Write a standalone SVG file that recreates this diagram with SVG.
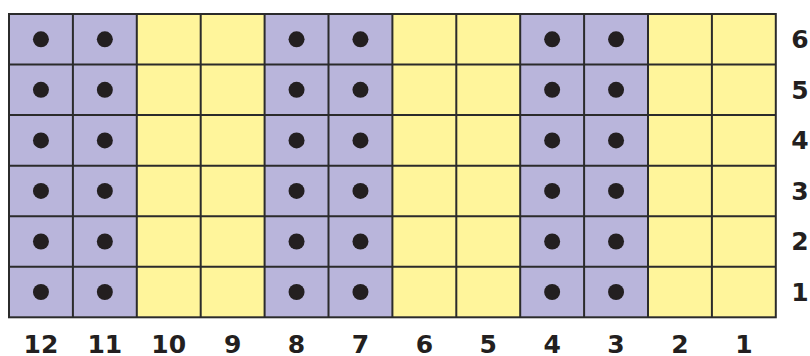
<svg xmlns="http://www.w3.org/2000/svg" xmlns:xlink="http://www.w3.org/1999/xlink" width="810" height="356" viewBox="0 0 810 356">
<defs>
<style>
.p{fill:#b9b5db}
.y{fill:#fff59b}
.d{fill:#231f20}
.g{stroke:#2b2b2b;stroke-width:2;fill:none}
.t{font-family:"DejaVu Sans",sans-serif;font-weight:bold;font-size:25px;fill:#231f20;text-anchor:middle}
</style>
<circle id="dot" r="8" class="d"/>
</defs>
<rect width="810" height="356" fill="#ffffff"/>
<g id="col-12"><rect class="p" x="9" y="14" width="63.9" height="303.3"/>
<use xlink:href="#dot" x="40.95" y="39.3"/><use xlink:href="#dot" x="40.95" y="89.8"/><use xlink:href="#dot" x="40.95" y="140.4"/><use xlink:href="#dot" x="40.95" y="190.9"/><use xlink:href="#dot" x="40.95" y="241.5"/><use xlink:href="#dot" x="40.95" y="292"/></g>
<g id="col-11"><rect class="p" x="72.9" y="14" width="63.9" height="303.3"/>
<use xlink:href="#dot" x="104.85" y="39.3"/><use xlink:href="#dot" x="104.85" y="89.8"/><use xlink:href="#dot" x="104.85" y="140.4"/><use xlink:href="#dot" x="104.85" y="190.9"/><use xlink:href="#dot" x="104.85" y="241.5"/><use xlink:href="#dot" x="104.85" y="292"/></g>
<g id="col-10"><rect class="y" x="136.8" y="14" width="63.9" height="303.3"/></g>
<g id="col-9"><rect class="y" x="200.7" y="14" width="63.9" height="303.3"/></g>
<g id="col-8"><rect class="p" x="264.6" y="14" width="63.9" height="303.3"/>
<use xlink:href="#dot" x="296.55" y="39.3"/><use xlink:href="#dot" x="296.55" y="89.8"/><use xlink:href="#dot" x="296.55" y="140.4"/><use xlink:href="#dot" x="296.55" y="190.9"/><use xlink:href="#dot" x="296.55" y="241.5"/><use xlink:href="#dot" x="296.55" y="292"/></g>
<g id="col-7"><rect class="p" x="328.5" y="14" width="63.9" height="303.3"/>
<use xlink:href="#dot" x="360.45" y="39.3"/><use xlink:href="#dot" x="360.45" y="89.8"/><use xlink:href="#dot" x="360.45" y="140.4"/><use xlink:href="#dot" x="360.45" y="190.9"/><use xlink:href="#dot" x="360.45" y="241.5"/><use xlink:href="#dot" x="360.45" y="292"/></g>
<g id="col-6"><rect class="y" x="392.4" y="14" width="63.9" height="303.3"/></g>
<g id="col-5"><rect class="y" x="456.3" y="14" width="63.9" height="303.3"/></g>
<g id="col-4"><rect class="p" x="520.2" y="14" width="63.9" height="303.3"/>
<use xlink:href="#dot" x="552.15" y="39.3"/><use xlink:href="#dot" x="552.15" y="89.8"/><use xlink:href="#dot" x="552.15" y="140.4"/><use xlink:href="#dot" x="552.15" y="190.9"/><use xlink:href="#dot" x="552.15" y="241.5"/><use xlink:href="#dot" x="552.15" y="292"/></g>
<g id="col-3"><rect class="p" x="584.1" y="14" width="63.9" height="303.3"/>
<use xlink:href="#dot" x="616.05" y="39.3"/><use xlink:href="#dot" x="616.05" y="89.8"/><use xlink:href="#dot" x="616.05" y="140.4"/><use xlink:href="#dot" x="616.05" y="190.9"/><use xlink:href="#dot" x="616.05" y="241.5"/><use xlink:href="#dot" x="616.05" y="292"/></g>
<g id="col-2"><rect class="y" x="648" y="14" width="63.9" height="303.3"/></g>
<g id="col-1"><rect class="y" x="711.9" y="14" width="63.9" height="303.3"/></g>
<g id="grid" class="g">
<rect x="9" y="14" width="766.8" height="303.3"/>
<path d="M72.9 14V317.3M136.8 14V317.3M200.7 14V317.3M264.6 14V317.3M328.5 14V317.3M392.4 14V317.3M456.3 14V317.3M520.2 14V317.3M584.1 14V317.3M648 14V317.3M711.9 14V317.3"/>
<path d="M9 64.55H775.8M9 115.1H775.8M9 165.65H775.8M9 216.2H775.8M9 266.75H775.8"/>
</g>
<g id="row-labels" class="t">
<text x="800" y="48">6</text>
<text x="800" y="98.5">5</text>
<text x="800" y="149">4</text>
<text x="800" y="199.6">3</text>
<text x="800" y="250.2">2</text>
<text x="800" y="300.7">1</text>
</g>
<g id="col-labels" class="t">
<text x="40.95" y="353">12</text>
<text x="104.85" y="353">11</text>
<text x="168.75" y="353">10</text>
<text x="232.65" y="353">9</text>
<text x="296.55" y="353">8</text>
<text x="360.45" y="353">7</text>
<text x="424.35" y="353">6</text>
<text x="488.25" y="353">5</text>
<text x="552.15" y="353">4</text>
<text x="616.05" y="353">3</text>
<text x="679.95" y="353">2</text>
<text x="743.85" y="353">1</text>
</g>
</svg>
